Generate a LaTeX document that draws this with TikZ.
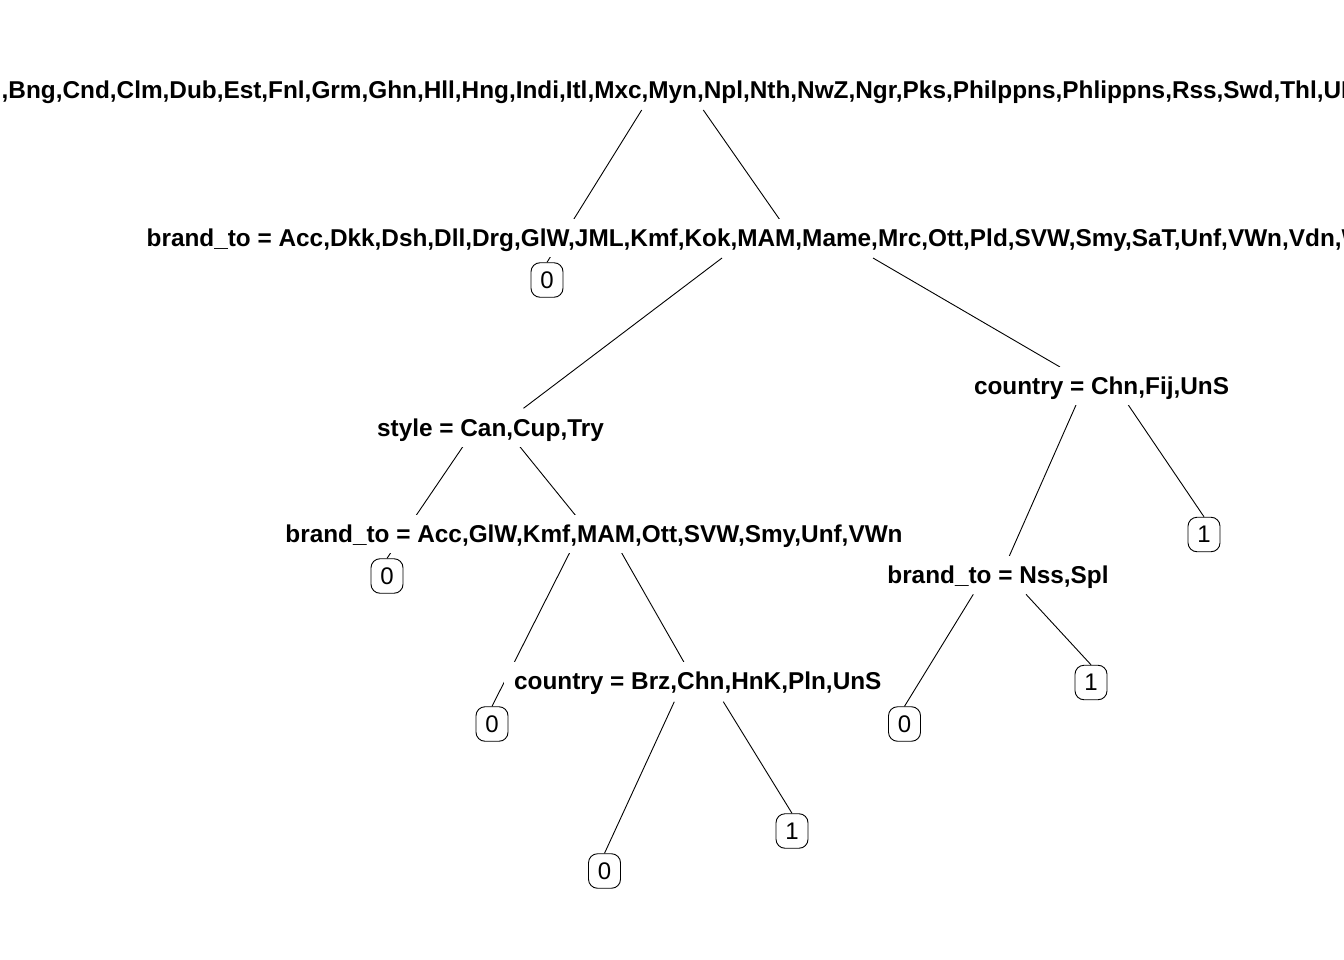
\documentclass[tikz,border=0pt]{standalone}
\usepackage{fontspec}
\setmainfont{Liberation Sans}
\begin{document}
\begin{tikzpicture}[x=1pt,y=-1pt,
  edge/.style={draw=black, line width=0.9pt},
  split/.style={fill=white, inner xsep=10pt, inner ysep=0pt, text height=27.5pt, text depth=10.5pt,
    font=\fontsize{24.35}{28}\selectfont\bfseries},
  leaf/.style={draw=black, fill=white, line width=0.9pt, rounded corners=9pt,
    minimum width=32pt, minimum height=34.5pt, inner sep=0pt, font=\fontsize{24}{28}\selectfont}]
\useasboundingbox (0,0) rectangle (1344,960);
\clip (0,0) rectangle (1344,960);

% leaves
\node[leaf] (l1) at (547,280) {0};
\node[leaf] (l2) at (387,576) {0};
\node[leaf] (l3) at (492,724) {0};
\node[leaf] (l4) at (604.5,871) {0};
\node[leaf] (l5) at (792,831) {1};
\node[leaf] (l6) at (904.5,724) {0};
\node[leaf] (l7) at (1091,682.5) {1};
\node[leaf] (l8) at (1204,534.5) {1};

% branch end points
\coordinate (root-l) at (641.7,110);
\coordinate (root-r) at (703.3,110);
\coordinate (bt1-in) at (780,220);
\coordinate (bt1-l) at (722,258);
\coordinate (bt1-r) at (873,258);
\coordinate (sty-in) at (523.5,408.3);
\coordinate (ctyR-in) at (1060,367);
\coordinate (sty-l) at (463.3,446);
\coordinate (sty-r) at (519.3,446);
\coordinate (bt2-in) at (576,516);
\coordinate (bt2-l) at (569.5,553);
\coordinate (bt2-r) at (621.7,553);
\coordinate (cty2-in) at (685,664);
\coordinate (cty2-l) at (674.3,701.7);
\coordinate (cty2-r) at (723.3,701.7);
\coordinate (ctyR-l) at (1076,405);
\coordinate (ctyR-r) at (1128.3,405);
\coordinate (bt3-in) at (1009,556.7);
\coordinate (bt3-l) at (973.3,594.3);
\coordinate (bt3-r) at (1026,594.3);

% branches
\draw[edge] (root-l) -- (l1.north);
\draw[edge] (root-r) -- (bt1-in);
\draw[edge] (bt1-l) -- (sty-in);
\draw[edge] (bt1-r) -- (ctyR-in);
\draw[edge] (sty-l) -- (l2.north);
\draw[edge] (sty-r) -- (bt2-in);
\draw[edge] (bt2-l) -- (l3.north);
\draw[edge] (bt2-r) -- (cty2-in);
\draw[edge] (cty2-l) -- (l4.north);
\draw[edge] (cty2-r) -- (l5.north);
\draw[edge] (ctyR-l) -- (bt3-in);
\draw[edge] (ctyR-r) -- (l8.north);
\draw[edge] (bt3-l) -- (l6.north);
\draw[edge] (bt3-r) -- (l7.north);

% split labels
\node[split, anchor=base west] (root) at (-8.5,98.5)
  {,Bng,Cnd,Clm,Dub,Est,Fnl,Grm,Ghn,Hll,Hng,Indi,Itl,Mxc,Myn,Npl,Nth,NwZ,Ngr,Pks,Philppns,Phlippns,Rss,Swd,Thl,UK};
\node[split, anchor=base west] (bt1) at (136.5,246.5)
  {brand\_to = Acc,Dkk,Dsh,Dll,Drg,GlW,JML,Kmf,Kok,MAM,Mame,Mrc,Ott,Pld,SVW,Smy,SaT,Unf,VWn,Vdn,W};
\node[split, anchor=base] (sty) at (490.5,436) {style = Can,Cup,Try};
\node[split, anchor=base] (bt2) at (594,542.5) {brand\_to = Acc,GlW,Kmf,MAM,Ott,SVW,Smy,Unf,VWn};
\node[split, anchor=base] (cty2) at (697.8,689.5) {country = Brz,Chn,HnK,Pln,UnS};
\node[split, anchor=base] (ctyR) at (1101.5,394.5) {country = Chn,Fij,UnS};
\node[split, anchor=base] (bt3) at (998,583) {brand\_to = Nss,Spl};
\end{tikzpicture}
\end{document}
